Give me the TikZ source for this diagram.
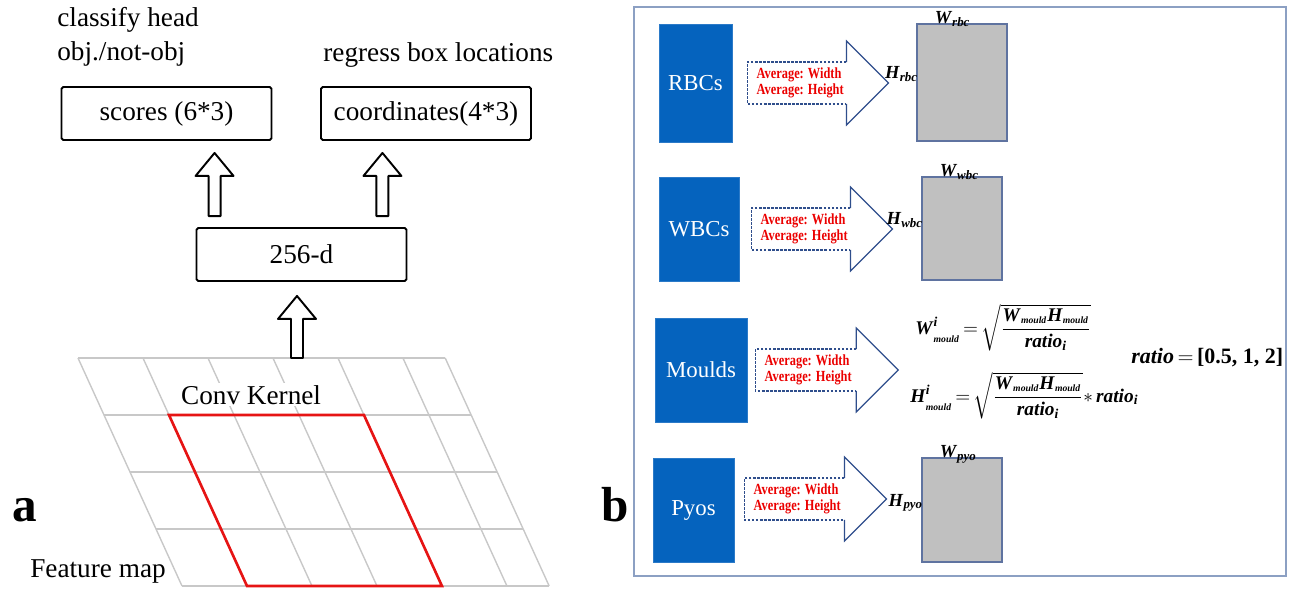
\documentclass[tikz,border=0pt]{standalone}
\usepackage{amsmath,amssymb}
\usepackage{fontspec}
\setmainfont{Liberation Serif}
\newfontfamily\narrowserif[FakeStretch=0.8]{Liberation Serif}
\usetikzlibrary{calc}

\definecolor{cellblue}{RGB}{5,99,190}
\definecolor{arrblue}{RGB}{47,78,140}
\definecolor{framecol}{RGB}{140,160,195}
\definecolor{boxgrey}{RGB}{192,192,192}
\definecolor{boxedge}{RGB}{95,115,160}
\definecolor{gridgrey}{RGB}{200,200,200}
\definecolor{kernelred}{RGB}{230,20,20}
\definecolor{avgred}{RGB}{235,0,0}

\newcommand{\bfit}[1]{\textbf{\textit{#1}}}
\newcommand{\mld}{\scriptscriptstyle\bfit{mould}}
\newcommand{\lowmld}{\lower2pt\hbox{$\mld$}}

\tikzset{
  blockarr/.style={draw, line width=1.1pt, line join=round,
    to path={let \p1=(\tikztostart), \p2=(\tikztotarget) in
      (\x1-0.12cm,\y1) -- (\x1-0.12cm,\y2-0.46cm) -- (\x1-0.38cm,\y2-0.46cm) -- (\x1,\y2)
      -- (\x1+0.38cm,\y2-0.46cm) -- (\x1+0.12cm,\y2-0.46cm) -- (\x1+0.12cm,\y1) -- cycle}},
  avgbody/.style={draw=arrblue, line width=0.7pt, dash pattern=on 1.5pt off 0.8pt,
    to path={let \p1=(\tikztostart), \p2=(\tikztotarget) in
      (\x2-0.84cm,\y1+0.42cm) -- (\x1,\y1+0.42cm) -- (\x1,\y1-0.42cm) -- (\x2-0.84cm,\y1-0.42cm)}},
  avghead/.style={draw=arrblue, line width=0.7pt, line join=miter,
    to path={let \p1=(\tikztostart), \p2=(\tikztotarget) in
      (\x2-0.84cm,\y1+0.42cm) -- (\x2-0.84cm,\y1+0.84cm) -- (\x2,\y1)
      -- (\x2-0.84cm,\y1-0.84cm) -- (\x2-0.84cm,\y1-0.42cm)}}
}

\begin{document}
\begin{tikzpicture}[x=0.02cm, y=-0.02cm,
  txt/.style={inner sep=0, font=\fontsize{15.5}{18}\selectfont},
  headbox/.style={draw, line width=1.1pt, rounded corners=1pt, minimum width=4.2cm,
    minimum height=1.06cm, font=\fontsize{15.5}{18}\selectfont},
  gridln/.style={draw=gridgrey, line width=0.8pt},
  kernel/.style={draw=kernelred, line width=1.5pt, line join=miter},
  panel/.style={inner sep=0, font=\fontsize{28}{30}\selectfont\bfseries},
  cell/.style={fill=cellblue, draw=cellblue!85!white, line width=0.4pt, text=white,
    font=\fontsize{13}{15}\selectfont},
  meanbox/.style={fill=boxgrey, draw=boxedge, line width=0.7pt},
  avgtxt/.style={inner sep=0, text=avgred, align=left,
    font=\narrowserif\bfseries\fontsize{8.8}{9.4}\selectfont},
  dimlbl/.style={inner sep=0, font=\fontsize{10.5}{12}\selectfont},
  formula/.style={inner sep=0, font=\fontsize{11}{13}\selectfont}]
\useasboundingbox (0,0) rectangle (1295,591);

\node[txt, anchor=base west] (clshead) at (57,27) {classify head};
\node[txt, anchor=base west] (clsobj) at (57,61) {obj./not-obj};
\node[txt, anchor=base west] (regtxt) at (323,62) {regress box locations};
\node[headbox] (scores) at (166.5,113.5) {scores (6*3)};
\node[headbox] (coords) at (426,113.5) {coordinates(4*3)};
\node[headbox] (feat) at (301.5,254.5) {256-d};
\coordinate (scin) at ($(feat.north west)+(19,-11)$);
\coordinate (scout) at ($(scores.south)+(0,12)$);
\coordinate (coin) at ($(feat.north east)+(-25,-11)$);
\coordinate (coout) at ($(coords.south)+(0,12)$);
\draw[blockarr] (scin) to (scout);
\draw[blockarr] (coin) to (coout);

\begin{scope}[shift={(78,358)}, x={(1.3cm,0cm)}, y={(0.52cm,-1.14cm)}]
  \foreach \r in {0,1,2,3,4}
    \draw[gridln] (0,\r) -- (5.65,\r);
  \foreach \c in {0,1,2,3,4,5,5.65}
    \draw[gridln] (\c,0) -- (\c,4);
  \draw[kernel] (1,1) -- (4,1) -- (4,4) -- (1,4) -- cycle;
\end{scope}
\coordinate (fmtop) at (297,358);
\coordinate (featin) at ($(feat.south)+(0,14)$);
\draw[blockarr] (fmtop) to (featin);
\node[txt, anchor=base west, fill=white, inner sep=1pt] (convk) at (179,404) {Conv Kernel};
\node[txt, anchor=base west] (fmap) at (30,577) {Feature map};
\node[panel, anchor=base west] (pa) at (12,521) {a};
\node[panel, anchor=base west] (pb) at (601,521) {b};

\draw[draw=framecol, line width=0.9pt] (634,7) rectangle (1286,576);
\node[cell, minimum width=1.46cm, minimum height=2.36cm] (rbc) at (695.5,83) {RBCs};
\node[cell, minimum width=1.6cm, minimum height=2.08cm] (wbc) at (699,229) {WBCs};
\node[cell, minimum width=1.84cm, minimum height=2.08cm] (mould) at (701,370) {Moulds};
\node[cell, minimum width=1.62cm, minimum height=2.08cm] (pyo) at (693.5,510) {Pyos};
\node[meanbox, minimum width=1.8cm, minimum height=2.34cm] (rbcbox) at (962,82.5) {};
\node[meanbox, minimum width=1.6cm, minimum height=2.06cm] (wbcbox) at (962,228.5) {};
\node[meanbox, minimum width=1.6cm, minimum height=2.08cm] (pyobox) at (962,510) {};

\coordinate (rbcin) at ($(rbc.east)+(15,0)$);
\coordinate (rbcout) at ($(rbcbox.west)+(-28,0)$);
\coordinate (wbcin) at ($(wbc.east)+(12,0)$);
\coordinate (wbcout) at ($(wbcbox.west)+(-29,0)$);
\coordinate (mouldin) at ($(mould.east)+(8,0)$);
\coordinate (mouldout) at ($(mould.east)+(151,0)$);
\coordinate (pyoin) at ($(pyo.east)+(10,-11)$);
\coordinate (pyoout) at ($(pyobox.west)+(-35,-11)$);
\foreach \k in {rbc,wbc,mould,pyo} {
  \draw[avgbody] (\k in) to (\k out);
  \draw[avghead] (\k in) to (\k out);
  \node[avgtxt, anchor=west] (\k avg) at ($(\k in)+(9,0)$) {Average: Width\\Average: Height};
}

\node[dimlbl, anchor=base west] (wrbc) at ($(rbcbox.north west)+(18,0)$) {$\bfit{W}_{\bfit{rbc}}$};
\node[dimlbl, anchor=base east] (hrbc) at ($(rbcbox.west)+(2,-4)$) {$\bfit{H}_{\bfit{rbc}}$};
\node[dimlbl, anchor=base west] (wwbc) at ($(wbcbox.north west)+(18,0)$) {$\bfit{W}_{\bfit{wbc}}$};
\node[dimlbl, anchor=base east] (hwbc) at ($(wbcbox.west)+(2,-4)$) {$\bfit{H}_{\bfit{wbc}}$};
\node[dimlbl, anchor=base west] (wpyo) at ($(pyobox.north west)+(18,0)$) {$\bfit{W}_{\bfit{pyo}}$};
\node[dimlbl, anchor=base east] (hpyo) at ($(pyobox.west)+(2,-4)$) {$\bfit{H}_{\bfit{pyo}}$};

\node[formula, anchor=west] (wform) at (915,328)
  {$\bfit{W}^{\bfit{i}}_{\lowmld}\,{=}\,\sqrt{\dfrac{\bfit{W}_{\mld}\bfit{H}_{\mld}}{\bfit{ratio}_{\bfit{i}}}}$};
\node[formula, anchor=west] (hform) at (910,396)
  {$\bfit{H}^{\bfit{i}}_{\lowmld}\,{=}\,\sqrt{\dfrac{\bfit{W}_{\mld}\bfit{H}_{\mld}}{\bfit{ratio}_{\bfit{i}}}}{*}\,\bfit{ratio}_{\bfit{i}}$};
\node[anchor=west, inner sep=0, font=\fontsize{12.5}{15}\selectfont] (ratios) at (1131,358)
  {$\bfit{ratio}\,{=}\,\textbf{[0.5, 1, 2]}$};
\end{tikzpicture}
\end{document}
